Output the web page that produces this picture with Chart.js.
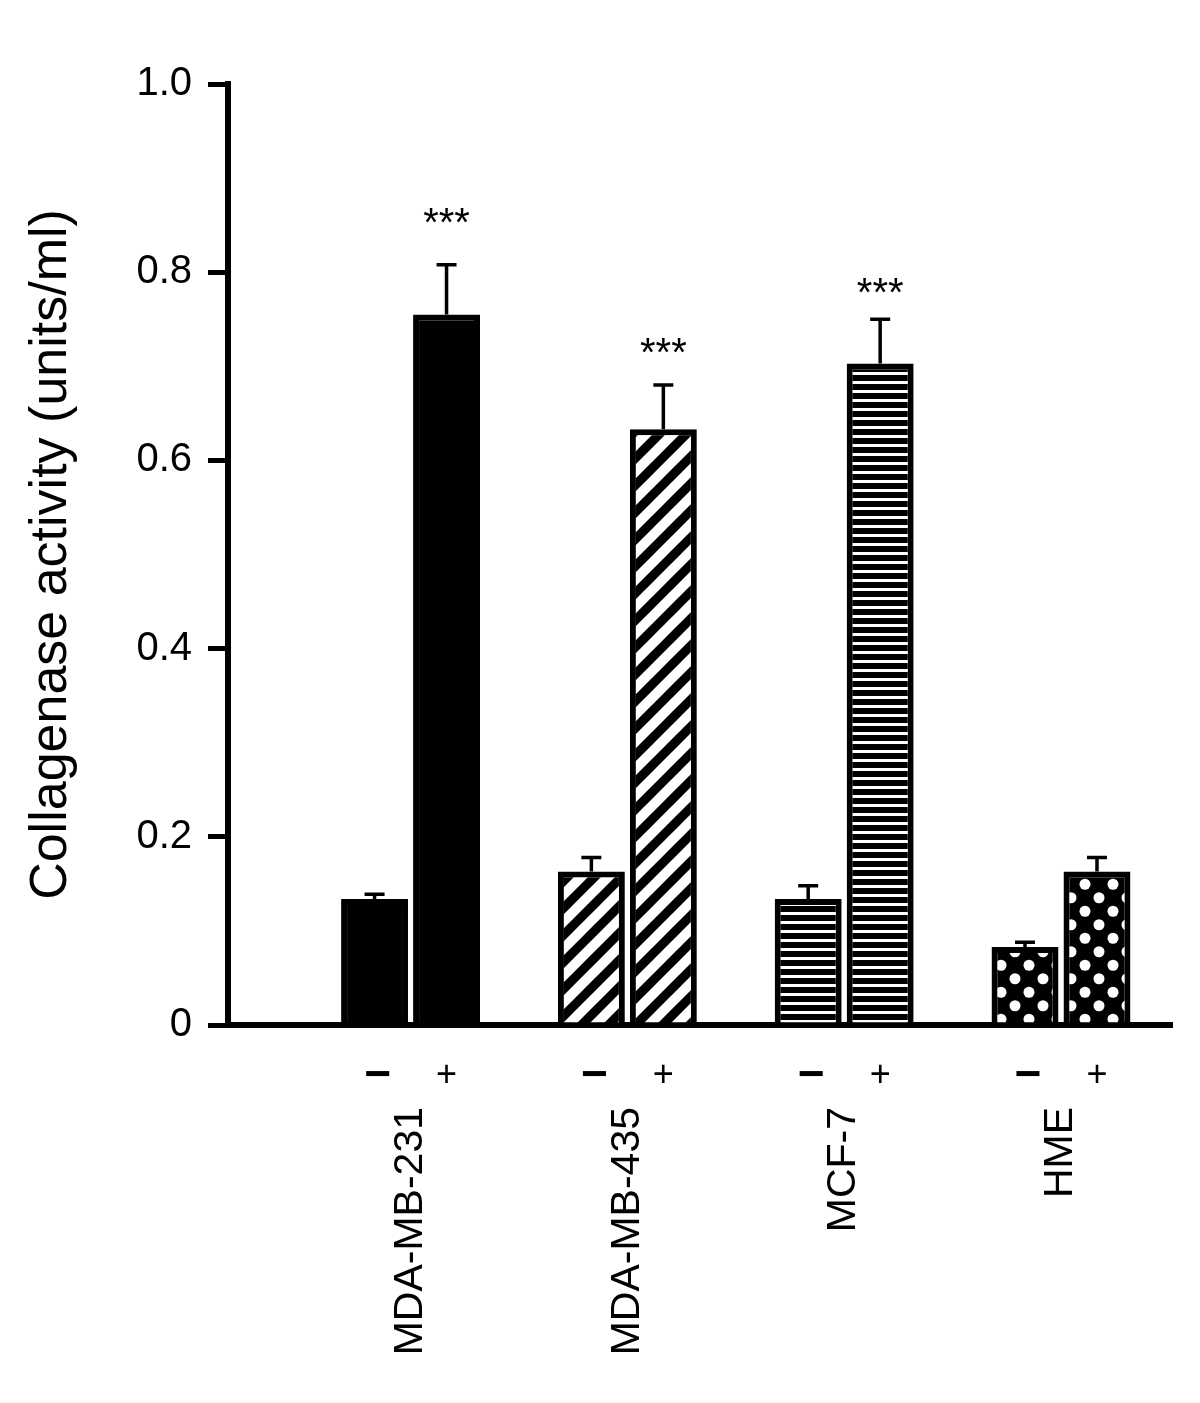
<!DOCTYPE html>
<html>
<head>
<meta charset="utf-8">
<script src="https://cdn.jsdelivr.net/npm/chart.js@4.4.1/dist/chart.umd.min.js"></script>
<style>
  html, body { margin: 0; padding: 0; background: #fff; }
  #wrap { width: 1200px; height: 1403px; position: relative; }
</style>
</head>
<body>
<div id="wrap"><canvas id="chart"></canvas></div>
<script>
// Collagenase activity per cell line, without (−) / with (+) treatment
const groups = ["MDA-MB-231", "MDA-MB-435", "MCF-7", "HME"];
const treatLabels = ["−", "+"];
const minusValues = [0.134, 0.163, 0.134, 0.083];
const minusErrors = [0.005, 0.015, 0.014, 0.005];
const plusValues = [0.755, 0.633, 0.703, 0.163];
const plusErrors = [0.053, 0.047, 0.047, 0.015];
const plusStars = ["***", "***", "***", ""];
const starLevels = [0.863, 0.725, 0.789, null];
const yTicks = [0, 0.2, 0.4, 0.6, 0.8, 1.0];

const FONT = "'Liberation Sans', Arial, sans-serif";
const canvas = document.getElementById("chart");

// black fill with white motif, one per cell line
function makePattern(w, h, draw) {
  const c = document.createElement("canvas");
  c.width = w;
  c.height = h;
  const g = c.getContext("2d");
  g.fillStyle = "#000";
  g.fillRect(0, 0, w, h);
  g.fillStyle = g.strokeStyle = "#fff";
  draw(g, w, h);
  return canvas.getContext("2d").createPattern(c, "repeat");
}

const diagonal = makePattern(27, 27, (g, w, h) => {
  g.lineWidth = 10;
  [-w, 0, w].forEach((o) => {
    g.beginPath();
    g.moveTo(o - 6, h + 6);
    g.lineTo(o + w + 6, -6);
    g.stroke();
  });
});
const hlines = makePattern(4, 9, (g) => g.fillRect(0, 3, 4, 3));
const dots = makePattern(28, 27, (g) => {
  [[7, 6.75], [21, 20.25]].forEach(([cx, cy]) => {
    g.beginPath();
    g.arc(cx, cy, 5.5, 0, Math.PI * 2);
    g.fill();
  });
});
const fills = ["#000", diagonal, hlines, dots];

const errorBars = {
  id: "errorBars",
  afterDatasetsDraw(chart) {
    const ctx = chart.ctx;
    const y = chart.scales.y;
    const area = chart.chartArea;
    ctx.save();
    ctx.strokeStyle = "#000";
    ctx.fillStyle = "#000";
    chart.data.datasets.forEach((ds, di) => {
      chart.getDatasetMeta(di).data.forEach((bar, i) => {
        const top = y.getPixelForValue(ds.data[i].y + ds.errors[i]);
        ctx.lineWidth = 3.5;
        ctx.beginPath();
        ctx.moveTo(bar.x, bar.y);
        ctx.lineTo(bar.x, top);
        ctx.moveTo(bar.x - 10, top);
        ctx.lineTo(bar.x + 10, top);
        ctx.stroke();

        // treatment sign under each bar
        ctx.textAlign = "center";
        ctx.textBaseline = "alphabetic";
        if (di === 0) {
          ctx.font = "bold 46px " + FONT;
          ctx.fillText(treatLabels[0], bar.x + 3, area.bottom + 48 + 16);
        } else {
          ctx.font = "36px " + FONT;
          ctx.fillText(treatLabels[1], bar.x, area.bottom + 48 + 13);
        }

        if (ds.stars && ds.stars[i]) {
          ctx.font = "40px " + FONT;
          const sy = y.getPixelForValue(starLevels[i]);
          ctx.fillText(ds.stars[i], bar.x, sy + 23);
        }
      });
    });
    ctx.restore();
  },
};

const barOpts = {
  borderColor: "#000",
  borderWidth: 6,
  borderSkipped: "bottom",
  categoryPercentage: 0.664,
  barPercentage: 0.93,
};

new Chart(canvas, {
  type: "bar",
  data: {
    datasets: [
      Object.assign({
        label: treatLabels[0],
        data: minusValues.map((v, i) => ({ x: i, y: v })),
        errors: minusErrors,
        backgroundColor: fills,
      }, barOpts),
      Object.assign({
        label: treatLabels[1],
        data: plusValues.map((v, i) => ({ x: i, y: v })),
        errors: plusErrors,
        stars: plusStars,
        backgroundColor: fills,
      }, barOpts),
    ],
  },
  options: {
    responsive: true,
    maintainAspectRatio: false,
    animation: false,
    layout: { padding: { top: 84, right: 28, left: 0, bottom: 0 } },
    plugins: { legend: { display: false }, tooltip: { enabled: false } },
    scales: {
      x: {
        type: "linear",
        offset: false,
        min: -0.842,
        max: 3.512,
        grid: { display: false, drawTicks: false, offset: false },
        border: { display: true, width: 6, color: "#000" },
        afterBuildTicks: (s) => { s.ticks = groups.map((g, i) => ({ value: i })); },
        afterFit: (s) => { s.height = 378; },
        ticks: {
          color: "#000",
          font: { family: FONT, size: 41 },
          minRotation: 90,
          maxRotation: 90,
          padding: 82,
          callback: (v) => groups[v] || "",
        },
      },
      y: {
        min: 0,
        max: 1,
        afterBuildTicks: (s) => { s.ticks = yTicks.map((v) => ({ value: v })); },
        afterFit: (s) => { s.width = 228; },
        grid: { drawOnChartArea: false, drawTicks: true, tickLength: 20, lineWidth: 5, color: "#000" },
        border: { display: true, width: 6, color: "#000" },
        ticks: {
          color: "#000",
          font: { family: FONT, size: 40 },
          padding: 16,
          callback: (v) => (v === 0 ? "0" : v.toFixed(1)),
        },
        title: {
          display: true,
          text: "Collagenase activity (units/ml)",
          color: "#000",
          font: { family: FONT, size: 52 },
          padding: { top: 20, bottom: 0 },
        },
      },
    },
  },
  plugins: [errorBars],
});
</script>
</body>
</html>
